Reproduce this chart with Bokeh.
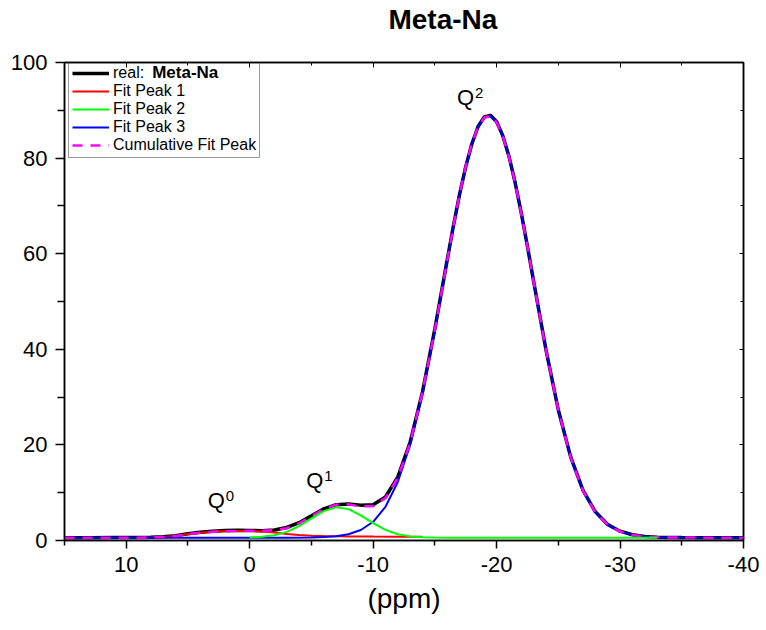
from bokeh.plotting import figure
from bokeh.models import Range1d, FixedTicker, LinearAxis, Legend, LegendItem, Label
from bokeh.embed import file_html
from bokeh.resources import INLINE

FONT = "Liberation Sans"

title_text = "Meta-Na"
x_label = "(ppm)"

x_ticks = [10, 0, -10, -20, -30, -40]
x_tick_labels = ["10", "0", "-10", "-20", "-30", "-40"]
x_minor = [15, 5, -5, -15, -25, -35]
y_ticks = [0, 20, 40, 60, 80, 100]
y_tick_labels = ["0", "20", "40", "60", "80", "100"]
y_minor = [10, 30, 50, 70, 90]

# experimental spectrum (real: Meta-Na)
real_x = [15, 13, 11, 9, 8, 7, 6, 5, 4, 3, 2, 1, 0, -1, -2, -3, -4, -5, -6, -7,
          -8, -9, -10, -11, -12, -13, -14, -15, -16, -16.5, -17, -17.5, -18, -18.5, -19, -19.5, -20, -20.5, -21, -21.5,
          -22, -22.5, -23, -24, -25, -26, -27, -28, -29, -30, -31, -32, -33, -34, -35, -37, -40]
real_y = [0.58, 0.6, 0.62, 0.63, 0.67, 0.78, 1.02, 1.42, 1.72, 1.95, 2.08, 2.12, 2.08, 2.06, 2.2, 2.72, 3.72, 5.15, 6.62, 7.5,
          7.62, 7.4, 7.5, 9.1, 13.3, 20.6, 31.1, 44.3, 58.7, 65.8, 72.4, 78.2, 83.0, 86.6, 88.6, 88.95, 87.6, 84.7, 80.4, 74.9,
          68.5, 61.5, 54.2, 39.9, 27.3, 17.5, 10.5, 6.0, 3.35, 1.95, 1.2, 0.85, 0.7, 0.64, 0.61, 0.6, 0.6]

# cumulative fit peak
cum_x = real_x
cum_y = [0.6, 0.6, 0.6, 0.6, 0.63, 0.72, 0.95, 1.35, 1.62, 1.82, 1.95, 2.01, 2.03, 2.05, 2.14, 2.58, 3.58, 5.06, 6.57, 7.50,
         7.56, 7.15, 7.17, 8.89, 13.16, 20.5, 31.04, 44.1, 58.6, 65.75, 72.4, 78.3, 83.1, 86.55, 88.5, 88.85, 87.5, 84.6, 80.3, 74.8,
         68.4, 61.45, 54.15, 39.8, 27.25, 17.4, 10.4, 5.9, 3.3, 1.85, 1.14, 0.82, 0.68, 0.63, 0.61, 0.6, 0.6]

# fit peak 1 (Q0)
p1_x = [9, 8, 7, 6, 5, 4, 3, 2, 1, 0, -1, -2, -3, -4, -5, -6, -7, -8, -10, -12, -14]
p1_y = [0.6, 0.63, 0.72, 0.95, 1.35, 1.62, 1.82, 1.95, 2.0, 1.98, 1.88, 1.65, 1.38, 1.15, 1.0, 0.92, 0.88, 0.86, 0.83, 0.81, 0.8]

# fit peak 2 (Q1)
p2_x = [0, -1, -2, -3, -4, -5, -6, -7, -8, -9, -10, -11, -12, -13, -14, -15, -16, -33]
p2_y = [0.65, 0.77, 1.09, 1.80, 3.01, 4.62, 6.14, 6.93, 6.58, 5.27, 3.63, 2.22, 1.32, 0.86, 0.68, 0.62, 0.6, 0.6]

# fit peak 3 (Q2)
p3_x = [15, -3, -5, -6, -7, -8, -9, -10, -11, -12, -13, -14, -15, -16, -16.5, -17, -17.5, -18, -18.5, -19,
        -19.5, -20, -20.5, -21, -21.5, -22, -22.5, -23, -24, -25, -26, -27, -28, -29, -30, -31, -32, -33, -34, -35, -40]
p3_y = [0.6, 0.6, 0.64, 0.71, 0.89, 1.30, 2.19, 3.92, 7.05, 12.23, 20.04, 30.76, 44.0, 58.55, 65.7, 72.37, 78.26, 83.06, 86.54, 88.49,
        88.83, 87.51, 84.62, 80.33, 74.84, 68.44, 61.45, 54.16, 39.82, 27.25, 17.40, 10.42, 5.93, 3.28, 1.85, 1.14, 0.82, 0.68, 0.63, 0.61, 0.6]

legend_labels = ["real:", "Fit Peak 1", "Fit Peak 2", "Fit Peak 3", "Cumulative Fit Peak"]

p = figure(width=766, height=630, x_range=Range1d(15, -40), y_range=Range1d(0, 100),
           output_backend="svg", toolbar_location=None, title_location=None,
           min_border_left=64, min_border_right=23, min_border_top=61, min_border_bottom=90)
p.grid.visible = False
p.outline_line_color = "black"
p.outline_line_width = 1.5
p.background_fill_color = "white"
p.border_fill_color = "white"

r_real = p.line(real_x, real_y, line_color="black", line_width=3.5)
r_p1 = p.line(p1_x, p1_y, line_color="#FF0000", line_width=2)
r_p3 = p.line(p3_x, p3_y, line_color="#0000FF", line_width=2)
r_cum = p.line(cum_x, cum_y, line_color="#FF00FF", line_width=2.5, line_dash="10 8")
r_p2 = p.line(p2_x, p2_y, line_color="#00FF00", line_width=2)

# axes
xa = p.below[0]
xa.ticker = FixedTicker(ticks=x_ticks, minor_ticks=x_minor)
xa.major_label_overrides = {t: s for t, s in zip(x_ticks, x_tick_labels)}
xa.major_tick_out = 8
xa.major_tick_in = 0
xa.minor_tick_out = 5
xa.minor_tick_in = 0
xa.major_label_text_font = FONT
xa.major_label_text_font_size = "22px"
xa.major_label_text_color = "black"
xa.major_label_standoff = 8
xa.axis_label = x_label
xa.axis_label_text_font = FONT
xa.axis_label_text_font_size = "28px"
xa.axis_label_text_font_style = "normal"
xa.axis_label_text_color = "black"
xa.axis_label_standoff = 8
xa.axis_line_width = 1.5
xa.major_tick_line_width = 1.5
xa.minor_tick_line_width = 1.5

ya = p.left[0]
ya.ticker = FixedTicker(ticks=y_ticks, minor_ticks=y_minor)
ya.major_label_overrides = {t: s for t, s in zip(y_ticks, y_tick_labels)}
ya.major_tick_out = 9
ya.major_tick_in = 0
ya.minor_tick_out = 7
ya.minor_tick_in = 0
ya.major_label_text_font = FONT
ya.major_label_text_font_size = "22px"
ya.major_label_text_color = "black"
ya.major_label_standoff = 8
ya.axis_line_width = 1.5
ya.major_tick_line_width = 1.5
ya.minor_tick_line_width = 1.5

ra = LinearAxis(ticker=FixedTicker(ticks=y_ticks, minor_ticks=y_minor))
ra.major_tick_in = 4
ra.major_tick_out = 0
ra.minor_tick_in = 3
ra.minor_tick_out = 0
ra.major_label_overrides = {t: "" for t in y_ticks}
ra.major_label_standoff = 0
ra.axis_line_width = 1.5
p.add_layout(ra, "right")

# top axis: inward ticks, carries the chart title as its label (shifted right with no-break spaces)
ta = LinearAxis(ticker=FixedTicker(ticks=x_ticks, minor_ticks=x_minor))
ta.major_tick_in = 5
ta.major_tick_out = 0
ta.minor_tick_in = 3
ta.minor_tick_out = 0
ta.major_label_overrides = {t: "" for t in x_ticks}
ta.major_label_standoff = 0
ta.axis_line_width = 1.5
ta.axis_label = "\u00a0" * 10 + title_text
ta.axis_label_text_font = FONT
ta.axis_label_text_font_size = "28px"
ta.axis_label_text_font_style = "bold"
ta.axis_label_text_color = "black"
ta.axis_label_standoff = 28
p.add_layout(ta, "above")

# legend
items = [LegendItem(label=legend_labels[0], renderers=[r_real]),
         LegendItem(label=legend_labels[1], renderers=[r_p1]),
         LegendItem(label=legend_labels[2], renderers=[r_p2]),
         LegendItem(label=legend_labels[3], renderers=[r_p3]),
         LegendItem(label=legend_labels[4], renderers=[r_cum])]
leg = Legend(items=items, location=(4, 382))
leg.label_text_font = FONT
leg.label_text_font_size = "16px"
leg.label_text_color = "black"
leg.label_height = 18
leg.glyph_height = 18
leg.glyph_width = 37
leg.label_standoff = 4
leg.spacing = 0
leg.padding = 3
leg.margin = 0
leg.border_line_color = "#333333"
leg.border_line_width = 1
leg.background_fill_alpha = 0
p.add_layout(leg)

p.add_layout(Label(x=7.9, y=97.9, text="Meta-Na", text_font=FONT, text_font_size="17px",
                   text_font_style="bold", text_color="black", level="overlay",
                   text_baseline="alphabetic", text_align="left"))

# peak labels
def q_label(xq, yq, sup):
    p.add_layout(Label(x=xq, y=yq, text="Q", text_font=FONT, text_font_size="22px", text_color="black",
                       text_baseline="alphabetic", text_align="left"))
    p.add_layout(Label(x=xq, y=yq, x_offset=18, y_offset=5, text=sup, text_font=FONT, text_font_size="15px",
                       text_color="black", text_baseline="alphabetic", text_align="left"))

q_label(3.40, 8.35, "0")
q_label(-4.59, 12.5, "1")
q_label(-16.79, 92.6, "2")

open("out.html", "w").write(file_html(p, INLINE))
